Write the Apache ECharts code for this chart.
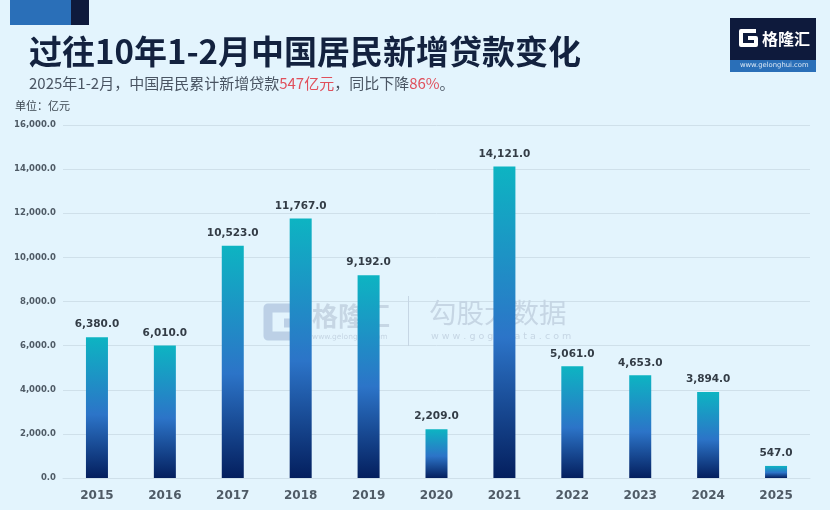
<!DOCTYPE html>
<html lang="zh-CN">
<head>
<meta charset="UTF-8">
<title>过往10年1-2月中国居民新增贷款变化</title>
<script src="https://cdn.jsdelivr.net/npm/echarts@6/dist/echarts.min.js"></script>
<style>
  html, body { margin: 0; padding: 0; background: #e3f4fd; }
  #chart { width: 830px; height: 510px; }
</style>
</head>
<body>
<div id="chart"></div>
<script>
const years = ['2015', '2016', '2017', '2018', '2019', '2020', '2021', '2022', '2023', '2024', '2025'];
const loans = [6380, 6010, 10523, 11767, 9192, 2209, 14121, 5061, 4653, 3894, 547];

const cjk = '"Noto Sans CJK SC", "Noto Sans", sans-serif';
const num = '"DejaVu Sans", sans-serif';

function fmt(v) {
  return v.toLocaleString('en-US', { minimumFractionDigits: 1, maximumFractionDigits: 1 });
}

const chart = echarts.init(document.getElementById('chart'), null, { renderer: 'canvas' });

chart.setOption({
  backgroundColor: '#e3f4fd',
  animation: false,
  title: {
    text: '过往10年1-2月中国居民新增贷款变化',
    left: 24,
    top: 30,
    textStyle: { fontFamily: cjk, fontSize: 33, fontWeight: 'bold', color: '#13223f' },
    subtext: '2025年1-2月，中国居民累计新增贷款{r|547亿元}，同比下降{r|86%}。',
    itemGap: 8,
    subtextStyle: {
      fontFamily: cjk, fontSize: 15, color: '#4a5563',
      rich: { r: { fontFamily: cjk, fontSize: 15, color: '#e0505c' } }
    }
  },
  grid: { left: 63, right: 20, top: 125, bottom: 32 },
  xAxis: {
    type: 'category',
    data: years,
    axisLine: { show: true, lineStyle: { color: '#cfe0ea', width: 1 } },
    axisTick: { show: false },
    axisLabel: { fontFamily: num, fontSize: 12, fontWeight: 'bold', color: '#4f5b66', margin: 12 }
  },
  yAxis: {
    type: 'value',
    min: 0,
    max: 16000,
    interval: 2000,
    axisLine: { show: false },
    axisTick: { show: false },
    splitLine: { lineStyle: { color: '#cfe0ea', width: 1 } },
    axisLabel: { fontFamily: num, fontSize: 8.5, fontWeight: 'bold', color: '#4f5b66', margin: 7, padding: [2, 0, 0, 0], formatter: fmt }
  },
  series: [{
    type: 'bar',
    data: loans,
    barWidth: 22,
    z: 5,
    itemStyle: {
      color: new echarts.graphic.LinearGradient(0, 0, 0, 1, [
        { offset: 0, color: '#0db4c2' },
        { offset: 0.55, color: '#2c74c8' },
        { offset: 1, color: '#041f5e' }
      ])
    },
    label: {
      show: true,
      position: 'top',
      distance: 7,
      fontFamily: num,
      fontSize: 10.5,
      fontWeight: 'bold',
      color: '#333c46',
      formatter: p => fmt(p.value)
    }
  }],
  graphic: [
    // top accent blocks
    { type: 'rect', z: 1, shape: { x: 10, y: 0, width: 61, height: 25 }, style: { fill: '#2a6fb8' } },
    { type: 'rect', z: 1, shape: { x: 71, y: 0, width: 18, height: 25 }, style: { fill: '#0e1a3c' } },
    // unit
    { type: 'text', z: 1, style: { x: 15, y: 100, text: '单位：亿元', fontFamily: cjk, fontSize: 11, fill: '#3c4650' } },
    // logo
    { type: 'rect', z: 1, shape: { x: 730, y: 18, width: 86, height: 42 }, style: { fill: '#0e1a3c' } },
    { type: 'rect', z: 1, shape: { x: 730, y: 60, width: 86, height: 12 }, style: { fill: '#2a6fb8' } },
    { type: 'polyline', z: 2, shape: { points: [[756, 31], [741, 31], [741, 45], [756, 45], [756, 38], [748, 38]] },
      style: { stroke: '#ffffff', lineWidth: 4, fill: null, lineJoin: 'round' } },
    { type: 'text', z: 2, style: { x: 762, y: 31, text: '格隆汇', fontFamily: cjk, fontWeight: 'bold', fontSize: 16, fill: '#ffffff' } },
    { type: 'text', z: 2, style: { x: 740, y: 62, text: 'www.gelonghui.com', fontFamily: num, fontSize: 6.8, fill: '#dbe8f5' } },
    // watermark
    { type: 'polyline', z: 1, shape: { points: [[298, 308], [268, 308], [268, 336], [298, 336], [298, 323], [284, 323]] },
      style: { stroke: '#bcd0e6', lineWidth: 9, fill: null, lineJoin: 'round' } },
    { type: 'text', z: 1, style: { x: 312, y: 303, text: '格隆汇', fontFamily: cjk, fontWeight: 'bold', fontSize: 26, fill: '#c6d6e4' } },
    { type: 'text', z: 1, style: { x: 312, y: 333, text: 'www.gelonghui.com', fontFamily: num, fontSize: 7.5, fill: '#c6d6e4' } },
    { type: 'rect', z: 1, shape: { x: 408, y: 296, width: 1, height: 50 }, style: { fill: '#c6d6e4' } },
    { type: 'text', z: 1, style: { x: 429, y: 299, text: '勾股大数据', fontFamily: cjk, fontSize: 27.5, fill: '#c6d6e4' } },
    { type: 'text', z: 1, style: { x: 431, y: 332, text: 'w w w . g o g u d a t a . c o m', fontFamily: num, fontSize: 9.5, fill: '#c6d6e4' } }
  ]
});
</script>
</body>
</html>
